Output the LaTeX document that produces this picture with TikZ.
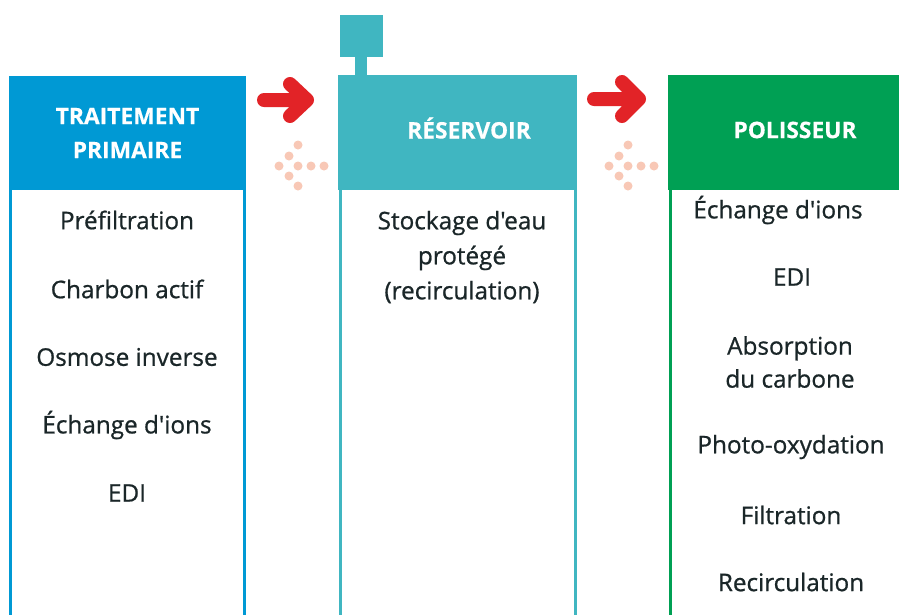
\documentclass[tikz,border=0pt]{standalone}
\usepackage{fontspec}
\setmainfont{Open Sans}
\newfontfamily\itemfont{Open Sans}[FakeBold=0.8]
\newfontfamily\hdrfont{Open Sans}[FakeBold=0.3]
\begin{document}
\begin{tikzpicture}[x=1pt,y=-1pt,
  hdr/.style={font=\fontsize{22.8}{34}\hdrfont\bfseries, text=white, align=center},
  item/.style={font=\fontsize{24.3}{33}\itemfont, text=txt, align=center},
  redarrow/.style={draw=arrred, line width=14pt, line cap=round, line join=round},
  dot/.style={circle, fill=dotc, inner sep=0pt, minimum size=9pt},
]
\definecolor{cblue}{RGB}{0,153,212}
\definecolor{cteal}{RGB}{64,182,193}
\definecolor{cgreen}{RGB}{0,160,84}
\definecolor{arrred}{RGB}{226,35,39}
\definecolor{dotc}{RGB}{248,200,182}
\definecolor{txt}{RGB}{26,38,40}
\useasboundingbox (0,0) rectangle (899,614);
\fill[white] (0,0) rectangle (899,614);
% column 1
\draw[cblue, line width=3pt] (10.5,185) -- (10.5,620) (244.5,185) -- (244.5,620);
\fill[cblue] (9,76) rectangle (246,190);
\node[hdr] (h1) at (127.5,133) {TRAITEMENT\\PRIMAIRE};
% column 2
\draw[cteal, line width=3pt] (340.5,185) -- (340.5,620) (575.5,185) -- (575.5,620);
\fill[cteal] (338,75) rectangle (577,190);
\fill[cteal] (340,15) rectangle (383,57);
\fill[cteal] (355,56) rectangle (367,76);
\node[hdr] (h2) at (469,128) {RÉSERVOIR};
% column 3
\draw[cgreen, line width=3pt] (670.5,185) -- (670.5,620);
\fill[cgreen] (668,75) rectangle (905,190);
\node[hdr] (h3) at (795,130) {POLISSEUR};
% red arrows
\draw[redarrow] (264,100) -- (307,100) (290,84) -- (307,100) -- (290,116);
\draw[redarrow] (594,99) -- (639,99) (622,82) -- (639,99) -- (622,116);
% dotted arrows
\foreach \dx in {0,330}{
  \foreach \px/\py in {298/145,289/156,279/166,298/166,311/166,324/166,289/176,298/186}{
    \node[dot] at (\px+\dx,\py) {};
  }
}
% items column 1
\node[item] (a1) at (127,220) {Préfiltration};
\node[item] (a2) at (127,289) {Charbon actif};
\node[item] (a3) at (127,357) {Osmose inverse};
\node[item] (a4) at (127,425) {Échange d'ions};
\node[item] (a5) at (127,493) {EDI};
% column 2
\node[item, font=\fontsize{24.3}{35}\itemfont] (b1) at (462,257) {Stockage d'eau\\protégé\\(recirculation)};
% column 3
\node[item] (c1) at (778,210) {Échange d'ions};
\node[item] (c2) at (792,277) {EDI};
\node[item] (c3) at (790,362) {Absorption\\du carbone};
\node[item] (c4) at (791,447) {Photo-oxydation};
\node[item] (c5) at (791,515) {Filtration};
\node[item] (c6) at (791,582) {Recirculation};
\end{tikzpicture}
\end{document}
